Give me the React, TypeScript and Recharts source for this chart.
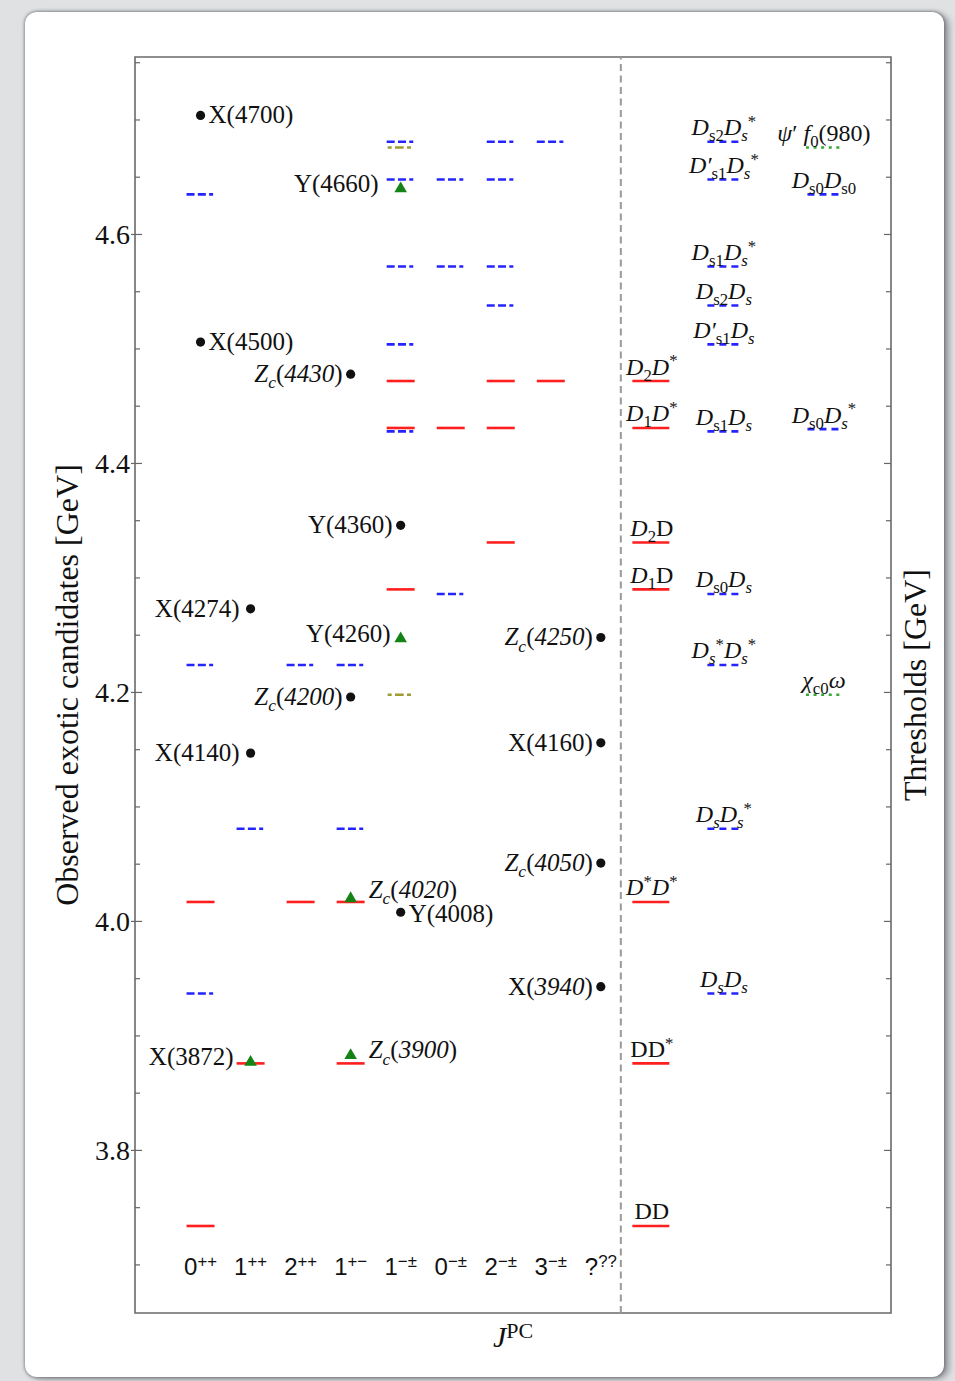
import React from "react";
import {
  ScatterChart,
  Scatter,
  XAxis,
  YAxis,
  ReferenceLine,
  ReferenceArea,
} from "recharts";

// text fragment: [text, flags] with i = italic, b = subscript, p = superscript, k = step back
type Part = [string, string?];

// J^PC columns (x = 1..9)
const jpcColumns: Part[][] = [
  [["0"], ["++", "p"]],
  [["1"], ["++", "p"]],
  [["2"], ["++", "p"]],
  [["1"], ["+−", "p"]],
  [["1"], ["−±", "p"]],
  [["0"], ["−±", "p"]],
  [["2"], ["−±", "p"]],
  [["3"], ["−±", "p"]],
  [["?"], ["??", "p"]],
];

// observed candidates, mass in GeV
const dotCandidates = [
  { name: "X(4700)", col: 1, mass: 4.704 },
  { name: "X(4500)", col: 1, mass: 4.506 },
  { name: "X(4274)", col: 2, mass: 4.273 },
  { name: "X(4140)", col: 2, mass: 4.147 },
  { name: "Zc(4430)", col: 4, mass: 4.478 },
  { name: "Zc(4200)", col: 4, mass: 4.196 },
  { name: "Y(4360)", col: 5, mass: 4.346 },
  { name: "Y(4008)", col: 5, mass: 4.008 },
  { name: "Zc(4250)", col: 9, mass: 4.248 },
  { name: "X(4160)", col: 9, mass: 4.156 },
  { name: "Zc(4050)", col: 9, mass: 4.051 },
  { name: "X(3940)", col: 9, mass: 3.943 },
];

const triangleCandidates = [
  { name: "Y(4660)", col: 5, mass: 4.64 },
  { name: "Y(4260)", col: 5, mass: 4.247 },
  { name: "Zc(4020)", col: 4, mass: 4.02 },
  { name: "Zc(3900)", col: 4, mass: 3.883 },
  { name: "X(3872)", col: 2, mass: 3.877 },
];

// thresholds sorted into J^PC columns: [col, GeV]
const solidLevels: [number, number][] = [
  [1, 4.017], [1, 3.734],
  [2, 3.876],
  [3, 4.017],
  [4, 4.017], [4, 3.876],
  [5, 4.472], [5, 4.431], [5, 4.29],
  [6, 4.431],
  [7, 4.472], [7, 4.431], [7, 4.331],
  [8, 4.472],
];

const dashDotLevels: [number, number][] = [
  [1, 4.635], [1, 4.224], [1, 3.937],
  [2, 4.081],
  [3, 4.224],
  [4, 4.224], [4, 4.081],
  [5, 4.681], [5, 4.648], [5, 4.572], [5, 4.504], [5, 4.428],
  [6, 4.648], [6, 4.572], [6, 4.286],
  [7, 4.681], [7, 4.648], [7, 4.572], [7, 4.538],
  [8, 4.681],
];

const oliveLevels: [number, number][] = [
  [5, 4.676], [5, 4.198],
];

// threshold list on the right of the divider
const openCharm: { mass: number; label: Part[] }[] = [
  { mass: 4.472, label: [["D", "i"], ["2", "b"], ["D", "i"], ["*", "p"]] },
  { mass: 4.431, label: [["D", "i"], ["1", "b"], ["D", "i"], ["*", "p"]] },
  { mass: 4.331, label: [["D", "i"], ["2", "b"], ["D"]] },
  { mass: 4.29, label: [["D", "i"], ["1", "b"], ["D"]] },
  { mass: 4.017, label: [["D", "i"], ["*", "p"], ["D", "i"], ["*", "p"]] },
  { mass: 3.876, label: [["DD"], ["*", "p"]] },
  { mass: 3.734, label: [["DD"]] },
];

const charmStrange: { mass: number; label: Part[] }[] = [
  { mass: 4.681, label: [["D", "i"], ["s2", "b"], ["D", "i"], ["s", "ib"], ["*", "p"]] },
  { mass: 4.648, label: [["D′", "i"], ["s1", "b"], ["D", "i"], ["s", "ib"], ["*", "p"]] },
  { mass: 4.572, label: [["D", "i"], ["s1", "b"], ["D", "i"], ["s", "ib"], ["*", "p"]] },
  { mass: 4.538, label: [["D", "i"], ["s2", "b"], ["D", "i"], ["s", "ib"]] },
  { mass: 4.504, label: [["D′", "i"], ["s1", "b"], ["D", "i"], ["s", "ib"]] },
  { mass: 4.428, label: [["D", "i"], ["s1", "b"], ["D", "i"], ["s", "ib"]] },
  { mass: 4.286, label: [["D", "i"], ["s0", "b"], ["D", "i"], ["s", "ib"]] },
  { mass: 4.224, label: [["D", "i"], ["s", "ib"], ["*", "p"], ["D", "i"], ["s", "ib"], ["*", "p"]] },
  { mass: 4.081, label: [["D", "i"], ["s", "ib"], ["D", "i"], ["s", "ib"], ["*", "p"]] },
  { mass: 3.937, label: [["D", "i"], ["s", "ib"], ["D", "i"], ["s", "ib"]] },
];

const scalarStrange: { mass: number; label: Part[] }[] = [
  { mass: 4.635, label: [["D", "i"], ["s0", "b"], ["D", "i"], ["s0", "b"]] },
  { mass: 4.43, label: [["D", "i"], ["s0", "b"], ["D", "i"], ["s", "ib"], ["*", "p"]] },
];

const hiddenCharm: { mass: number; label: Part[] }[] = [
  { mass: 4.676, label: [["ψ", "i"], ["′ "], ["f", "i"], ["0", "b"], ["(980)"]] },
  { mass: 4.198, label: [["χ", "i"], ["c0", "b"], ["ω", "i"]] },
];

const majorTicks = [3.8, 4.0, 4.2, 4.4, 4.6];
const allTicks = [
  3.7, 3.75, 3.8, 3.85, 3.9, 3.95, 4.0, 4.05, 4.1, 4.15, 4.2, 4.25, 4.3,
  4.35, 4.4, 4.45, 4.5, 4.55, 4.6, 4.65, 4.7, 4.75,
];

const X_DOMAIN: [number, number] = [-0.31, 14.8];
const Y_DOMAIN: [number, number] = [3.658, 4.755];
const DIVIDER = 9.4;
const COL_OPEN = 10;
const COL_STRANGE = 11.44;
const COL_OTHER = 13.44;

const SERIF = "'Liberation Serif', 'Times New Roman', serif";
const SANS = "'Liberation Sans', Arial, sans-serif";
const RED = "#ff1f1f";
const BLUE = "#2424ff";
const OLIVE = "#9c9c32";
const GREEN = "#34aa34";

// label placement for the candidates
const labelRight = ["X(4700)", "X(4500)", "Y(4008)", "Zc(4020)", "Zc(3900)"];
const labelGap: Record<string, number> = {
  "Y(4660)": 22,
  "X(3872)": 17,
  "Zc(4020)": 18,
  "Zc(3900)": 18,
  "X(4274)": 11,
  "X(4140)": 11,
};
const labelDy: Record<string, number> = {
  "Zc(4020)": -1,
  "Y(4008)": 10,
};

function Rich({
  x, y, parts, anchor = "start", size = 24, family = SERIF,
}: { x: number; y: number; parts: Part[]; anchor?: string; size?: number; family?: string }) {
  let shift = 0;
  return (
    <text x={x} y={y} textAnchor={anchor} fontFamily={family} fontSize={size} fill="#111">
      {parts.map(([t, f = ""], i) => {
        const small = f.includes("b") || f.includes("p");
        const target = f.includes("b") ? size * 0.25 : f.includes("p") ? -size * 0.35 : 0;
        const dy = target - shift;
        shift = target;
        return (
          <tspan
            key={i}
            dy={dy}
            dx={f.includes("k") ? -size * 0.27 : undefined}
            fontStyle={f.includes("i") ? "italic" : undefined}
            fontSize={small ? size * 0.7 : undefined}
          >
            {t}
          </tspan>
        );
      })}
    </text>
  );
}

function candidateParts(name: string): Part[] {
  const m = name.match(/^(\w+)\((\d+)\)$/);
  if (!m) return [[name]];
  if (m[1] === "Zc") return [["Z", "i"], ["c", "ib"], ["("], [m[2], "i"], [")"]];
  if (name === "X(3940)") return [["X("], [m[2], "i"], [")"]];
  return [[name]];
}

const toPoints = (levels: [number, number][]) => levels.map(([col, mass]) => ({ col, mass }));

const levelShape = (stroke: string, dash?: string) => (p: any) => (
  <line
    x1={p.cx - 14}
    x2={p.cx + 14}
    y1={p.cy}
    y2={p.cy}
    stroke={stroke}
    strokeWidth={2.6}
    strokeDasharray={dash}
  />
);

const thresholdShape = (stroke: string, width: number, dash?: string) => (p: any) => (
  <g>
    <line
      x1={p.cx - width / 2}
      x2={p.cx + width / 2}
      y1={p.cy}
      y2={p.cy}
      stroke={stroke}
      strokeWidth={2.6}
      strokeDasharray={dash}
    />
    <Rich x={p.cx + 1} y={p.cy - 6.5} parts={p.payload.label} anchor="middle" />
  </g>
);

const candidateShape = (kind: "dot" | "tri") => (p: any) => {
  const { cx, cy, payload } = p;
  const right = labelRight.includes(payload.name);
  const gap = labelGap[payload.name] ?? (kind === "dot" ? 8 : 10);
  const dy = labelDy[payload.name] ?? (kind === "dot" ? 8 : 3);
  return (
    <g>
      {kind === "dot" ? (
        <circle cx={cx} cy={cy} r={4.6} fill="#111" />
      ) : (
        <polygon
          points={`${cx},${cy - 7.2} ${cx - 6.3},${cy + 3.6} ${cx + 6.3},${cy + 3.6}`}
          fill="#148214"
        />
      )}
      <Rich
        x={right ? cx + gap : cx - gap}
        y={cy + dy}
        anchor={right ? "start" : "end"}
        size={25}
        parts={candidateParts(payload.name)}
      />
    </g>
  );
};

const LeftTick = (p: any) => {
  const v = p.payload.value;
  const major = majorTicks.some((t) => Math.abs(t - v) < 1e-6);
  return (
    <g>
      <line x1={p.x - (major ? 4 : 0)} x2={p.x + (major ? 7 : 5)} y1={p.y} y2={p.y} stroke="#666" strokeWidth={1.2} />
      {major && (
        <text x={p.x - 5} y={p.y + 9.5} textAnchor="end" fontFamily={SERIF} fontSize={28} fill="#111">
          {v.toFixed(1)}
        </text>
      )}
    </g>
  );
};

const RightTick = (p: any) => {
  const v = p.payload.value;
  const major = majorTicks.some((t) => Math.abs(t - v) < 1e-6);
  return <line x1={p.x - (major ? 7 : 5)} x2={p.x} y1={p.y} y2={p.y} stroke="#666" strokeWidth={1.2} />;
};

const JpcTick = (p: any) => {
  const parts = jpcColumns[Math.round(p.payload.value) - 1];
  if (!parts) return null;
  return <Rich x={p.x} y={p.y - 38} parts={parts} anchor="middle" family={SANS} />;
};

const JpcTitle = (p: any) => {
  const vb = p.viewBox;
  return (
    <text x={vb.x + vb.width / 2} y={vb.y + 34} textAnchor="middle" fontFamily={SERIF} fill="#111">
      <tspan fontSize={30} fontStyle="italic">J</tspan>
      <tspan fontSize={22} dy={-9}>PC</tspan>
    </text>
  );
};

const LeftTitle = (p: any) => {
  const vb = p.viewBox;
  const x = vb.x + 23;
  const y = vb.y + vb.height / 2;
  return (
    <text x={x} y={y} transform={`rotate(-90 ${x} ${y})`} textAnchor="middle" fontFamily={SERIF} fontSize={32} fill="#111">
      Observed exotic candidates [GeV]
    </text>
  );
};

const RightTitle = (p: any) => {
  const vb = p.viewBox;
  const x = vb.x + 35;
  const y = vb.y + vb.height / 2;
  return (
    <text x={x} y={y} transform={`rotate(-90 ${x} ${y})`} textAnchor="middle" fontFamily={SERIF} fontSize={32} fill="#111">
      Thresholds [GeV]
    </text>
  );
};

export default function App() {
  return (
    <div style={{ position: "absolute", left: 0, top: 0, width: 955, height: 1381, background: "#dfe1e3", overflow: "hidden" }}>
      <div
        style={{
          position: "absolute",
          left: 25,
          top: 12,
          width: 919,
          height: 1365,
          background: "#fff",
          borderRadius: 12,
          boxShadow: "0 0 3px 1px rgba(80,85,90,0.55), 5px 2px 6px rgba(60,65,70,0.45)",
        }}
      />
      <div style={{ position: "absolute", left: 0, top: 0 }}>
        <ScatterChart width={955} height={1381} margin={{ top: 57, right: 24, bottom: 18, left: 55 }}>
          <XAxis
            type="number"
            dataKey="col"
            domain={X_DOMAIN}
            allowDataOverflow
            ticks={[1, 2, 3, 4, 5, 6, 7, 8, 9]}
            interval={0}
            tick={<JpcTick />}
            tickLine={false}
            tickSize={0}
            tickMargin={0}
            axisLine={false}
            height={50}
            label={{ content: JpcTitle }}
          />
          <YAxis
            yAxisId="l"
            type="number"
            dataKey="mass"
            domain={Y_DOMAIN}
            allowDataOverflow
            ticks={allTicks}
            interval={0}
            tick={<LeftTick />}
            tickLine={false}
            tickSize={0}
            tickMargin={0}
            axisLine={false}
            width={80}
            label={{ content: LeftTitle }}
          />
          <YAxis
            yAxisId="r"
            orientation="right"
            type="number"
            dataKey="mass"
            domain={Y_DOMAIN}
            allowDataOverflow
            ticks={allTicks}
            interval={0}
            tick={<RightTick />}
            tickLine={false}
            tickSize={0}
            tickMargin={0}
            axisLine={false}
            width={40}
            label={{ content: RightTitle }}
          />
          <ReferenceArea
            yAxisId="l"
            x1={X_DOMAIN[0]}
            x2={X_DOMAIN[1]}
            y1={Y_DOMAIN[0]}
            y2={Y_DOMAIN[1]}
            fill="none"
            stroke="#6a6a6a"
            strokeWidth={1.6}
            ifOverflow="visible"
          />
          <ReferenceLine yAxisId="l" x={DIVIDER} stroke="#9a9a9a" strokeWidth={2} strokeDasharray="7 4.5" />

          <Scatter yAxisId="l" data={toPoints(solidLevels)} shape={levelShape(RED)} isAnimationActive={false} />
          <Scatter yAxisId="l" data={toPoints(dashDotLevels)} shape={levelShape(BLUE, "8 3.3 8 3.3 4 30")} isAnimationActive={false} />
          <Scatter yAxisId="l" data={toPoints(oliveLevels)} shape={levelShape(OLIVE, "0 1 4 3.3 8.7 3.3 4 30")} isAnimationActive={false} />

          <Scatter yAxisId="l" data={openCharm.map((d) => ({ ...d, col: COL_OPEN }))} shape={thresholdShape(RED, 37)} isAnimationActive={false} />
          <Scatter yAxisId="l" data={charmStrange.map((d) => ({ ...d, col: COL_STRANGE }))} shape={thresholdShape(BLUE, 31, "7 5")} isAnimationActive={false} />
          <Scatter yAxisId="l" data={scalarStrange.map((d) => ({ ...d, col: COL_OTHER }))} shape={thresholdShape(BLUE, 31, "7 5")} isAnimationActive={false} />
          <Scatter yAxisId="l" data={hiddenCharm.map((d) => ({ ...d, col: COL_OTHER }))} shape={thresholdShape(GREEN, 34, "3 4.6")} isAnimationActive={false} />

          <Scatter yAxisId="l" data={dotCandidates} shape={candidateShape("dot")} isAnimationActive={false} />
          <Scatter yAxisId="l" data={triangleCandidates} shape={candidateShape("tri")} isAnimationActive={false} />
        </ScatterChart>
      </div>
    </div>
  );
}
